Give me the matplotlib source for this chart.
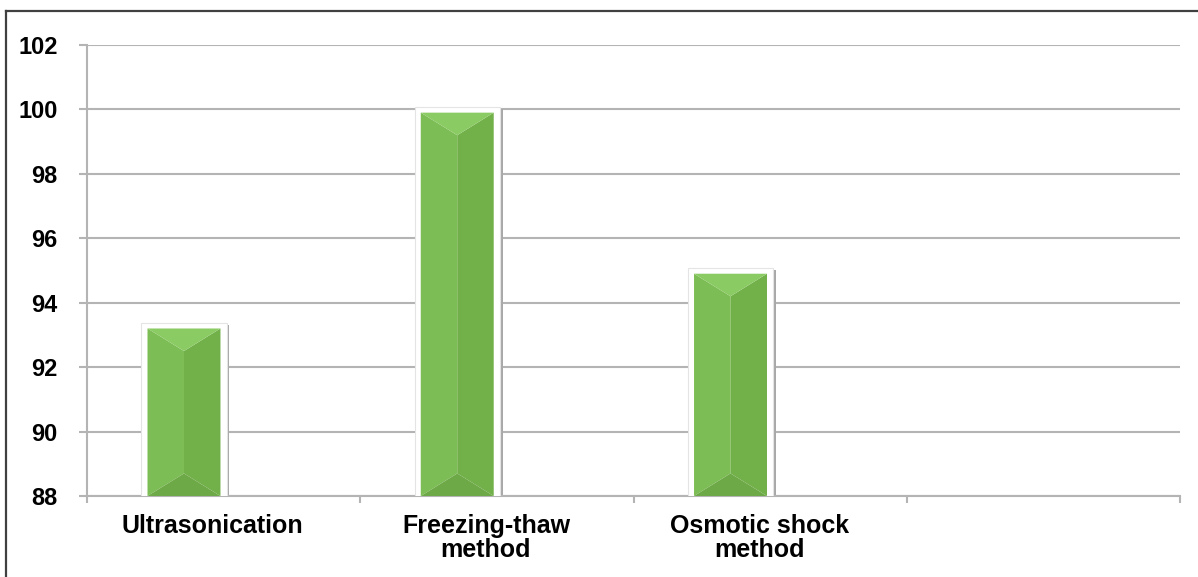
"""Bar chart: yield of three cell-disruption methods (88-102 axis)."""

import matplotlib

matplotlib.use("Agg")
import matplotlib.pyplot as plt
from matplotlib.lines import Line2D

categories = ["Ultrasonication", "Freezing-thaw\nmethod", "Osmotic shock\nmethod", ""]
values = [93.2, 99.9, 94.9]
yticks = [88, 90, 92, 94, 96, 98, 100, 102]

GRID = "#b4b4b4"


def bevel_bar(ax, xc, top, base, width):
    """Green bar with a soft pyramid bevel, drawn on a white frame."""
    fw = width * 1.17
    # drop shadow + white frame
    ax.bar(xc + 0.01, top + 0.12 - base, fw, bottom=base, color="#a8a8a8", zorder=2)
    ax.bar(xc, top + 0.17 - base, fw, bottom=base, color="white",
           edgecolor="#e4e4e4", linewidth=0.8, zorder=3)
    x0, x1 = xc - width / 2, xc + width / 2
    d = 0.7
    parts = [
        ([x0, x0, xc, xc], [base, top, top - d, base + d], "#7dbd55"),
        ([x1, x1, xc, xc], [base, top, top - d, base + d], "#72b04a"),
        ([x0, x1, xc], [top, top, top - d], "#8acb63"),
        ([x0, x1, xc], [base, base, base + d], "#6da947"),
    ]
    for xs, ys, c in parts:
        ax.fill(xs, ys, color=c, zorder=4, linewidth=0)


def main():
    plt.rcParams["font.family"] = ["Liberation Sans", "DejaVu Sans"]
    fig = plt.figure(figsize=(11.98, 5.77), dpi=100)
    ax = fig.add_axes([0.0726, 0.1404, 0.9124, 0.7816])

    base = yticks[0]
    for i, v in enumerate(values):
        bevel_bar(ax, i - 0.145, v, base, 0.267)

    ax.set_xlim(-0.5, len(categories) - 0.5)
    ax.set_ylim(yticks[0], yticks[-1])
    ax.set_yticks(yticks)
    ax.set_yticklabels([str(t) for t in yticks], fontsize=17, fontweight="bold")
    ax.yaxis.grid(True, color=GRID, linewidth=1.5, zorder=0)
    ax.set_axisbelow(True)

    # category boundary ticks, labels at the centres
    ax.set_xticks([i - 0.5 for i in range(len(categories) + 1)])
    ax.set_xticklabels([])
    ax.set_xticks([i - 0.04 for i in range(len(categories))], minor=True)
    ax.set_xticklabels(categories, minor=True, fontsize=18, fontweight="bold",
                       linespacing=1.0, va="top")
    ax.tick_params(axis="x", which="major", length=5, width=1.5, color=GRID, direction="out")
    ax.tick_params(axis="x", which="minor", length=0, pad=13)
    ax.tick_params(axis="y", length=6, width=1.5, color=GRID, pad=15)

    for side in ["top", "right"]:
        ax.spines[side].set_visible(False)
    for side in ["left", "bottom"]:
        ax.spines[side].set_color(GRID)
        ax.spines[side].set_linewidth(1.5)

    # outer frame (only top and left edges visible in the original)
    fig.add_artist(Line2D([6 / 1198, 1.0], [1 - 11 / 577] * 2, color="#404040", lw=1.6))
    fig.add_artist(Line2D([6 / 1198] * 2, [0.0, 1 - 11 / 577], color="#404040", lw=1.6))

    fig.savefig("out.png", dpi=100)


if __name__ == "__main__":
    main()
